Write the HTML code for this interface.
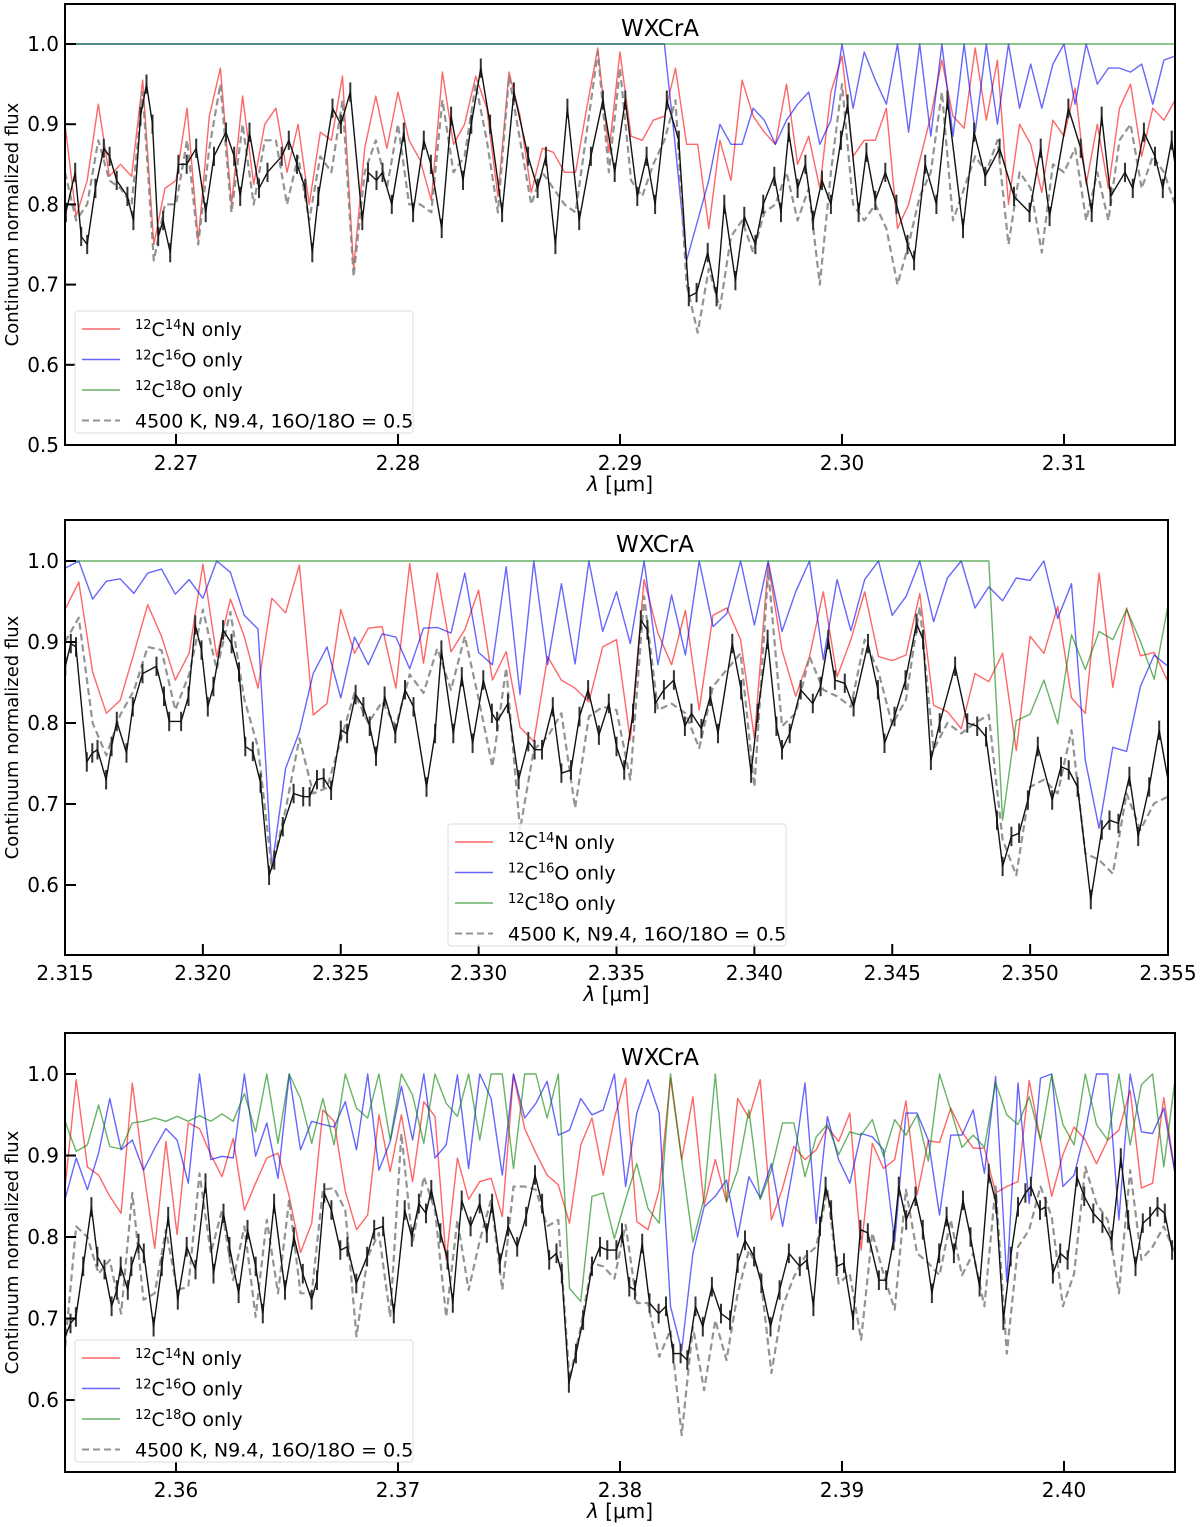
<!DOCTYPE html>
<html><head><meta charset="utf-8"><title>WXCrA spectra</title>
<style>
html,body{margin:0;padding:0;background:#fff;}
svg{display:block;font-family:"DejaVu Sans","Liberation Sans",sans-serif;}
</style></head>
<body>
<svg id="fig" width="1200" height="1527" viewBox="0 0 1200 1527" xmlns="http://www.w3.org/2000/svg"></svg>
<script>
// ---------------- Panel 1 data ----------------
const p1LamRange = [2.265, 2.315];
const p1Red = [.90,.785,.83,.925,.835,.85,.835,.955,.75,.82,.83,.92,.755,.91,.97,.80,.935,.825,.90,.92,.84,.90,.80,.89,.88,.96,.72,.87,.935,.87,.94,.88,.855,.805,.965,.875,.90,.96,.92,.81,.965,.91,.815,.87,.865,.84,.84,.92,.995,.865,.99,.885,.88,.905,.91,.97,
 .875,.875,.77,.88,.83,.955,.91,.89,.875,.95,.85,.885,.82,.94,.985,.86,.88,.88,.92,.77,.80,.855,.91,.98,.91,.895,.995,.905,.98,.80,.90,.875,.815,.905,.885,.945,.825,.90,.82,.92,.95,.86,.92,.905,.93];
const p1Blue = [1,1,1,1,1,1,1,1,1,1,1,1,1,1,1,1,1,1,1,1,1,1,1,1,1,1,1,1,1,1,1,1,1,1,1,1,1,1,1,1,1,1,1,1,1,1,1,1,1,1,1,1,1,1,1,
 .87,.73,.78,.83,.90,.875,.875,.92,.905,.875,.905,.925,.94,.875,.905,1.0,.92,.99,.955,.925,1.0,.89,1.0,.885,1.0,.885,1.0,.89,1.0,.90,1.0,.92,.975,.92,.975,1.0,.925,1.0,.95,.97,.97,.965,.975,.925,.98,.985];
const p1Green = [1,1,1,1,1,1,1,1,1,1,1,1,1,1,1,1,1,1,1,1,1,1,1,1,1,1,1,1,1,1,1,1,1,1,1,1,1,1,1,1,1,1,1,1,1,1,1,1,1,1,1,1,1,1,1,1,1,1,1,1,1,1,1,1,1,1,1,1,1,1,1,1,1,1,1,1,1,1,1,1,1,1,1,1,1,1,1,1,1,1,1,1,1,1,1,1,1,1,1,1,1];
const p1Model = [.84,.78,.80,.88,.83,.82,.80,.94,.73,.80,.80,.88,.75,.87,.95,.79,.90,.80,.88,.88,.80,.86,.78,.86,.84,.93,.71,.84,.88,.82,.90,.80,.80,.79,.93,.84,.86,.95,.88,.79,.96,.88,.80,.84,.82,.80,.79,.89,.99,.84,.97,.83,.81,.85,.88,.93,
 .70,.64,.72,.67,.76,.78,.74,.79,.80,.84,.78,.82,.70,.84,.95,.80,.78,.80,.77,.70,.75,.81,.84,.94,.78,.82,.86,.84,.88,.75,.84,.82,.74,.85,.84,.87,.78,.84,.78,.88,.90,.82,.86,.84,.80];
const p1ObsLam = [2.26504,2.26546,2.26573,2.26600,2.26637,2.26675,2.26701,2.26733,2.26781,2.26808,2.26840,2.26867,2.26894,2.26920,2.26942,2.26974,2.27011,2.27048,2.27091,2.27134,2.27171,2.27225,2.27262,2.27289,2.27331,2.27374,2.27412,2.27476,2.27508,2.27545,2.27582,2.27614,2.27641,2.27705,2.27743,2.27785,2.27839,2.27865,2.27903,2.27930,2.27972,2.28026,2.28068,2.28116,2.28148,2.28197,2.28239,2.28293,2.28330,2.28373,2.28415,2.28469,2.28522,2.28586,2.28629,2.28666,2.28709,2.28763,2.28816,2.28869,2.28923,2.28976,2.29024,2.29078,2.29120,2.29158,2.29211,2.29265,
 2.29310,2.29345,2.29395,2.29435,2.29470,2.29520,2.29560,2.29610,2.29645,2.29695,2.29725,2.29760,2.29800,2.29835,2.29870,2.29910,2.29950,2.29995,2.30025,2.30075,2.30110,2.30150,2.30195,2.30245,2.30295,2.30325,2.30375,2.30425,2.30475,2.30545,2.30595,2.30645,2.30710,2.30775,2.30845,2.30895,2.30935,2.31020,2.31075,2.31125,2.31170,2.31210,2.31275,2.31310,2.31360,2.31410,2.31445,2.31485,2.3150];
const p1ObsFlux = [.79,.84,.76,.75,.82,.87,.86,.83,.81,.78,.91,.95,.90,.76,.78,.74,.85,.85,.87,.79,.86,.89,.86,.81,.89,.82,.84,.86,.88,.85,.82,.74,.81,.92,.90,.94,.78,.84,.83,.84,.80,.89,.79,.88,.85,.77,.91,.83,.90,.97,.90,.79,.94,.86,.82,.86,.75,.92,.78,.86,.93,.84,.93,.81,.86,.80,.93,.88,
 .685,.69,.74,.685,.80,.705,.785,.75,.80,.835,.79,.89,.82,.85,.78,.83,.80,.88,.925,.79,.865,.805,.84,.80,.75,.73,.85,.80,.93,.77,.89,.835,.87,.81,.79,.87,.785,.92,.87,.79,.91,.81,.84,.82,.89,.86,.82,.88,.85];

// ---------------- Panel 2 data ----------------
const p2LamRange = [2.315, 2.355];
const p2Red = [.94,.974,.863,.812,.828,.886,.946,.907,.853,.886,.996,.882,.953,.907,.843,.954,.936,.995,.81,.824,.94,.886,.917,.919,.843,.997,.874,.985,.888,.915,.964,.853,.888,.795,.777,.882,.853,.843,.826,.894,
 .903,.779,.977,.911,.872,.939,.816,.933,.942,.903,.781,.997,.890,.833,.882,.962,.857,.903,.962,.882,.877,.884,.960,.822,.814,.793,.861,.851,.886,.766,.907,.886,.944,.831,.812,.985,.844,.942,.883,.887,.851];
const p2Blue = [.991,1.0,.953,.975,.978,.960,.985,.990,.959,.977,.954,1.0,.986,.933,.916,.621,.744,.789,.861,.894,.831,.906,.872,.910,.906,.867,.917,.918,.911,.985,.887,.872,.993,.835,1.0,.872,.972,.873,1.0,.913,
 .962,.898,1.0,.872,.958,.884,1.0,.919,.935,1.0,.921,1.0,.913,.962,1.0,.878,.977,.914,.977,1.0,.933,.956,1.0,.925,.979,1.0,.942,.968,.951,.979,.976,1.0,.929,.972,.754,.670,.770,.765,.845,.884,.870];
const p2Green = [1,1,1,1,1,1,1,1,1,1,1,1,1,1,1,1,1,1,1,1,1,1,1,1,1,1,1,1,1,1,1,1,1,1,1,1,1,1,1,1,1,1,1,1,1,1,1,1,1,1,1,1,1,1,1,1,1,1,1,1,1,1,1,1,1,1,1,1,
 .680,.803,.811,.853,.799,.909,.866,.913,.903,.940,.901,.854,.945];
const p2Model = [.90,.93,.80,.76,.81,.84,.894,.89,.816,.86,.94,.866,.937,.83,.77,.62,.693,.781,.713,.72,.779,.837,.80,.826,.796,.86,.837,.892,.841,.907,.83,.746,.868,.668,.767,.783,.812,.695,.808,.82,
 .816,.73,.956,.816,.824,.812,.769,.845,.866,.886,.721,.989,.796,.812,.882,.841,.833,.82,.903,.863,.798,.829,.944,.767,.80,.787,.80,.81,.656,.612,.721,.73,.713,.791,.639,.631,.614,.713,.668,.701,.709];
const p2ObsLam = [2.31501,2.31521,2.31540,2.31579,2.31599,2.31618,2.31649,2.31669,2.31688,2.31723,2.31746,2.31781,2.31832,2.31859,2.31878,2.31921,2.31948,2.31972,2.31995,2.32018,2.32038,2.32073,2.32104,2.32131,2.32154,2.32181,2.32209,2.32240,2.32259,2.32290,2.32329,2.32364,2.32387,2.32414,2.32438,2.32465,2.32500,2.32523,2.32554,2.32582,2.32605,2.32628,2.32659,2.32698,2.32733,2.32764,2.32811,2.32842,2.32865,2.32908,2.32939,2.32978,2.33017,2.33048,2.33067,2.33106,2.33145,2.33180,2.33203,2.33230,2.33269,2.33300,2.33335,2.33366,2.33397,2.33436,
 2.33472,2.33500,2.33528,2.33560,2.33588,2.33612,2.33640,2.33672,2.33708,2.33748,2.33772,2.33808,2.33840,2.33868,2.33920,2.33952,2.33988,2.34012,2.34048,2.34080,2.34100,2.34128,2.34168,2.34212,2.34240,2.34268,2.34292,2.34328,2.34360,2.34412,2.34448,2.34472,2.34508,2.34548,2.34588,2.34612,2.34640,2.34672,2.34728,2.34772,2.34808,2.34840,2.34880,2.34900,2.34932,2.34960,2.34992,2.35028,2.35080,2.35112,2.35140,2.35172,2.35220,2.35260,2.35288,2.35320,2.35360,2.35392,2.35432,2.35468,2.35500];
const p2ObsFlux = [.870,.898,.894,.752,.763,.767,.730,.771,.802,.763,.820,.861,.870,.833,.802,.802,.833,.921,.890,.820,.845,.915,.898,.863,.771,.765,.726,.612,.631,.672,.713,.709,.709,.730,.732,.717,.791,.787,.835,.820,.796,.759,.833,.787,.841,.820,.721,.787,.890,.787,.857,.775,.853,.812,.802,.824,.730,.777,.767,.767,.820,.738,.742,.808,.841,.785,
 .824,.771,.742,.812,.927,.915,.824,.841,.853,.796,.812,.793,.833,.787,.898,.841,.738,.812,.903,.796,.767,.787,.841,.824,.845,.903,.853,.849,.820,.898,.841,.775,.808,.853,.923,.903,.754,.800,.870,.800,.796,.783,.680,.623,.660,.664,.705,.771,.705,.746,.742,.721,.582,.668,.680,.676,.734,.660,.721,.791,.730];

// ---------------- Panel 3 data ----------------
const p3LamRange = [2.355, 2.405];
const p3Red = [.860,.993,.886,.876,.850,.829,.989,.882,.786,.917,.803,.940,.933,.901,.874,.921,.833,.866,.897,.903,.850,.781,.817,.956,.942,.856,.809,.827,.950,.880,.950,.868,.966,.948,.772,.897,.846,.868,.872,.825,.999,.933,.903,.876,.864,.817,.913,.946,
 .876,.946,.995,.819,.809,.858,.995,.895,.972,.839,.895,.843,.970,.946,.993,.821,.860,.911,.895,.907,.935,.917,.952,.784,.915,.884,.895,.967,.852,.918,.916,.958,.929,.909,.909,.854,.862,.868,.992,.919,.850,.901,.935,.919,.890,.919,.931,.980,.860,.866,.971,.878];
const p3Blue = [.846,.897,.858,.903,.970,.907,.919,.882,.909,.933,.919,.866,1.0,.895,.899,.897,1.0,.899,.940,.872,1.0,.907,.942,.938,.935,.966,.907,1.0,.882,.917,.985,.919,1.0,.897,.913,.999,.884,1.0,.970,.876,1.0,.946,.964,.991,.925,.931,.970,.950,
 .956,1.0,.862,.952,.993,.952,.715,.661,.780,.837,.850,.870,.800,.874,.848,.890,.813,.890,.989,.817,.948,.895,.866,.927,.923,.907,.794,.952,.952,.919,.827,.925,.925,.956,.878,.997,.745,.989,.841,.995,1.0,.862,.876,.931,1.0,1.0,.821,1.0,.929,.927,.958,.878];
const p3Green = [.942,.905,.913,.962,.911,.908,.940,.942,.946,.942,.948,.942,.949,.942,.951,.942,.976,.929,1.0,.915,1.0,.970,.915,.970,.913,1.0,.958,.946,1.0,.919,1.0,.974,.915,1.0,.964,.948,1.0,.919,1.0,1.0,.884,1.0,1.0,.946,1.0,.737,.721,.850,
 .854,.798,.846,.890,.835,.817,1.0,.895,.794,.848,1.0,.843,.882,.956,.846,.882,.940,.940,.874,.923,.938,.901,.929,.925,.944,.899,.944,.925,.950,.893,1.0,.956,.910,.925,.910,.989,.950,.938,.972,.919,.999,.938,.913,1.0,.938,.919,1.0,.913,.987,1.0,.886,.993];
const p3Model = [.665,.813,.800,.755,.772,.706,.854,.723,.731,.809,.735,.739,.878,.780,.833,.747,.813,.702,.821,.731,.846,.731,.731,.858,.860,.833,.678,.776,.805,.702,.927,.792,.874,.833,.702,.821,.735,.796,.846,.735,.862,.862,.858,.813,.821,.625,.690,.768,
 .764,.749,.815,.719,.719,.653,.686,.557,.690,.612,.698,.649,.731,.784,.755,.633,.715,.751,.776,.788,.858,.743,.755,.674,.805,.755,.711,.858,.780,.768,.753,.821,.753,.780,.715,.862,.657,.788,.809,.862,.825,.715,.755,.886,.841,.821,.731,.882,.772,.788,.813,.780];
const p3ObsLam = [2.35501,2.35525,2.35549,2.35582,2.35619,2.35646,2.35678,2.35710,2.35734,2.35751,2.35783,2.35799,2.35831,2.35855,2.35899,2.35936,2.35965,2.36008,2.36048,2.36088,2.36133,2.36169,2.36214,2.36241,2.36282,2.36322,2.36359,2.36391,2.36442,2.36491,2.36531,2.36571,2.36611,2.36635,2.36668,2.36700,2.36740,2.36772,2.36812,2.36861,2.36893,2.36933,2.36981,2.37030,2.37062,2.37094,2.37126,2.37150,2.37191,2.37223,2.37247,2.37287,2.37327,2.37368,2.37400,2.37424,2.37459,2.37496,2.37537,2.37577,2.37617,2.37649,2.37681,2.37714,2.37738,2.37770,2.37802,2.37834,2.37874,
 2.37910,2.37943,2.37984,2.38009,2.38042,2.38067,2.38100,2.38133,2.38174,2.38207,2.38240,2.38273,2.38303,2.38340,2.38373,2.38414,2.38455,2.38496,2.38530,2.38563,2.38604,2.38637,2.38678,2.38719,2.38761,2.38810,2.38843,2.38871,2.38901,2.38926,2.38951,2.38976,2.39009,2.39050,2.39083,2.39116,2.39166,2.39199,2.39232,2.39256,2.39289,2.39331,2.39364,2.39405,2.39438,2.39471,2.39504,2.39545,2.39579,2.39620,2.39661,2.39694,2.39727,2.39760,2.39793,2.39826,2.39851,2.39892,2.39917,2.39950,2.39983,2.40016,2.40058,2.40091,2.40132,2.40173,2.40215,2.40256,2.40289,2.40322,2.40355,2.40388,2.40421,2.40454,2.40487];
const p3ObsFlux = [.678,.694,.702,.764,.837,.776,.760,.715,.735,.764,.735,.764,.792,.780,.690,.764,.825,.723,.788,.760,.866,.755,.829,.788,.731,.809,.764,.706,.841,.735,.800,.755,.723,.747,.854,.833,.784,.788,.743,.776,.809,.813,.706,.833,.800,.841,.829,.858,.805,.772,.719,.845,.813,.841,.805,.841,.768,.813,.788,.825,.876,.841,.772,.780,.755,.621,.657,.698,.764,
 .788,.784,.784,.805,.739,.735,.792,.719,.706,.715,.657,.657,.649,.715,.690,.739,.706,.698,.768,.796,.776,.743,.690,.735,.780,.764,.772,.715,.813,.862,.833,.764,.768,.698,.809,.805,.747,.747,.796,.862,.821,.850,.809,.731,.780,.825,.780,.845,.800,.739,.878,.841,.698,.776,.837,.854,.862,.833,.837,.755,.780,.772,.874,.850,.829,.817,.796,.897,.821,.764,.817,.825,.837,.829,.784];

// ---------------- Shared tick labels ----------------
const yTickVals = [0.5, 0.6, 0.7, 0.8, 0.9, 1.0];
const p1XTicks = [2.27, 2.28, 2.29, 2.30, 2.31];
const p2XTicks = [2.315, 2.320, 2.325, 2.330, 2.335, 2.340, 2.345, 2.350, 2.355];
const p3XTicks = [2.36, 2.37, 2.38, 2.39, 2.40];
const errHalf = 0.012;

const NS = 'http://www.w3.org/2000/svg';
const svg = document.getElementById('fig');
function mk(tag, attrs, parent){
  const e = document.createElementNS(NS, tag);
  for (const k in attrs) e.setAttribute(k, attrs[k]);
  (parent || svg).appendChild(e);
  return e;
}

function drawPanel(P){
  const g = mk('g', {});
  
  
  const sx = v => P.left + (v - P.xmin) / (P.xmax - P.xmin) * (P.right - P.left);
  const sy = v => P.bottom - (v - P.ymin) / (P.ymax - P.ymin) * (P.bottom - P.top);
  const cid = 'clip-' + P.name;
  const defs = mk('defs', {}, g);
  const cp = mk('clipPath', {id: cid}, defs);
  mk('rect', {x: P.left, y: P.top, width: P.right - P.left, height: P.bottom - P.top}, cp);
  const plot = mk('g', {'clip-path': 'url(#' + cid + ')'}, g);
  
  

  function modelLine(vals, range, color, width, dash, nm){
    const n = vals.length;
    const step = (range[1] - range[0]) / (n - 1);
    let d = '';
    vals.forEach((v, i) => { d += (i ? 'L' : 'M') + sx(range[0] + i * step).toFixed(1) + ' ' + sy(v).toFixed(1); });
    const p = mk('path', {d: d, fill: 'none', stroke: color, 'stroke-width': width, 'stroke-linejoin': 'round'}, plot);
    if (dash) p.setAttribute('stroke-dasharray', dash);
    
    
  }
  modelLine(P.red, P.range, 'rgba(255,0,0,0.6)', 1.4, null, 'cn-only-line');
  modelLine(P.blue, P.range, 'rgba(0,0,255,0.6)', 1.4, null, 'c16o-only-line');
  modelLine(P.green, P.range, 'rgba(0,128,0,0.6)', 1.4, null, 'c18o-only-line');
  modelLine(P.model, P.range, 'rgba(128,128,128,0.85)', 2.2, '7,4', 'full-model-dashed-line');

  // observed
  let d = '', eb = '';
  P.obsLam.forEach((l, i) => {
    const x = sx(l).toFixed(1), y = P.obsFlux[i];
    d += (i ? 'L' : 'M') + x + ' ' + sy(y).toFixed(1);
    eb += 'M' + x + ' ' + sy(y - errHalf).toFixed(1) + 'V' + sy(y + errHalf).toFixed(1);
  });
  const ebp = mk('path', {d: eb, fill: 'none', stroke: '#333', 'stroke-width': 2}, plot);
  
  
  const ob = mk('path', {d: d, fill: 'none', stroke: '#111', 'stroke-width': 1.4, 'stroke-linejoin': 'round'}, plot);
  
  

  // frame
  const fr = mk('rect', {x: P.left, y: P.top, width: P.right - P.left, height: P.bottom - P.top, fill: 'none', stroke: '#000', 'stroke-width': 2}, g);
  
  

  // y ticks
  yTickVals.forEach(v => {
    if (v < P.ymin - 1e-6) return;
    const y = sy(v);
    mk('line', {x1: P.left, x2: P.left + 11, y1: y, y2: y, stroke: '#000', 'stroke-width': 2}, g);
    const t = mk('text', {x: P.left - 6, y: y + 7, 'text-anchor': 'end', 'font-size': 20, fill: '#000'}, g);
    t.textContent = v.toFixed(1);
    
    
  });
  // x ticks
  P.xticks.forEach(v => {
    const x = sx(v);
    mk('line', {x1: x, x2: x, y1: P.bottom, y2: P.bottom - 11, stroke: '#000', 'stroke-width': 2}, g);
    const t = mk('text', {x: x, y: P.bottom + 25, 'text-anchor': 'middle', 'font-size': 20, fill: '#000'}, g);
    t.textContent = v.toFixed(P.xdec);
    
    
  });
  const xl = mk('text', {x: (P.left + P.right) / 2, y: P.bottom + 46, 'text-anchor': 'middle', 'font-size': 20, fill: '#000'}, g);
  xl.innerHTML = '<tspan font-style="italic">λ</tspan> [μm]';
  
  
  const cy = (P.top + P.bottom) / 2;
  const yl = mk('text', {x: 18, y: cy, 'text-anchor': 'middle', 'font-size': 18, fill: '#000', transform: 'rotate(-90 18 ' + cy + ')'}, g);
  yl.textContent = 'Continuum normalized flux';
  
  
  const tt = mk('text', {x: P.titleX, y: P.top + 32, 'text-anchor': 'middle', 'font-size': 23, fill: '#000'}, g);
  tt.textContent = 'WXCrA';
  
  

  // legend
  const L = mk('g', {}, g);
  
  
  mk('rect', {x: P.leg[0], y: P.leg[1], width: 338, height: 122, rx: 3, fill: 'rgba(255,255,255,0.85)', stroke: '#ddd', 'stroke-width': 1}, L);
  const entries = [
    ['rgba(255,0,0,0.6)', null, '<tspan baseline-shift="super" font-size="13">12</tspan>C<tspan baseline-shift="super" font-size="13">14</tspan>N only', 'legend-entry-cn'],
    ['rgba(0,0,255,0.6)', null, '<tspan baseline-shift="super" font-size="13">12</tspan>C<tspan baseline-shift="super" font-size="13">16</tspan>O only', 'legend-entry-c16o'],
    ['rgba(0,128,0,0.6)', null, '<tspan baseline-shift="super" font-size="13">12</tspan>C<tspan baseline-shift="super" font-size="13">18</tspan>O only', 'legend-entry-c18o'],
    ['rgba(128,128,128,0.85)', '7,4', '4500 K, N9.4, 16O/18O = 0.5', 'legend-entry-model']
  ];
  entries.forEach((e, i) => {
    const y = P.leg[1] + 18 + i * 30.5;
    const ln = mk('line', {x1: P.leg[0] + 7, x2: P.leg[0] + 45, y1: y, y2: y, stroke: e[0], 'stroke-width': e[1] ? 2 : 1.4}, L);
    if (e[1]) ln.setAttribute('stroke-dasharray', e[1]);
    const t = mk('text', {x: P.leg[0] + 60, y: y + 7, 'font-size': 19, fill: '#000'}, L);
    t.innerHTML = e[2];
    
    
  });
}

drawPanel({name: 'panel-1', left: 65, right: 1175, top: 4, bottom: 445, xmin: 2.265, xmax: 2.315, ymin: 0.5, ymax: 1.0499,
  range: p1LamRange, red: p1Red, blue: p1Blue, green: p1Green, model: p1Model, obsLam: p1ObsLam, obsFlux: p1ObsFlux,
  xticks: p1XTicks, xdec: 2, titleX: 660, leg: [75, 311]});
drawPanel({name: 'panel-2', left: 65, right: 1168, top: 520, bottom: 955, xmin: 2.315, xmax: 2.355, ymin: 0.5136, ymax: 1.0506,
  range: p2LamRange, red: p2Red, blue: p2Blue, green: p2Green, model: p2Model, obsLam: p2ObsLam, obsFlux: p2ObsFlux,
  xticks: p2XTicks, xdec: 3, titleX: 655, leg: [448, 824]});
drawPanel({name: 'panel-3', left: 65, right: 1175, top: 1033, bottom: 1472, xmin: 2.355, xmax: 2.405, ymin: 0.5117, ymax: 1.0503,
  range: p3LamRange, red: p3Red, blue: p3Blue, green: p3Green, model: p3Model, obsLam: p3ObsLam, obsFlux: p3ObsFlux,
  xticks: p3XTicks, xdec: 2, titleX: 660, leg: [75, 1340]});
</script>
</body></html>
